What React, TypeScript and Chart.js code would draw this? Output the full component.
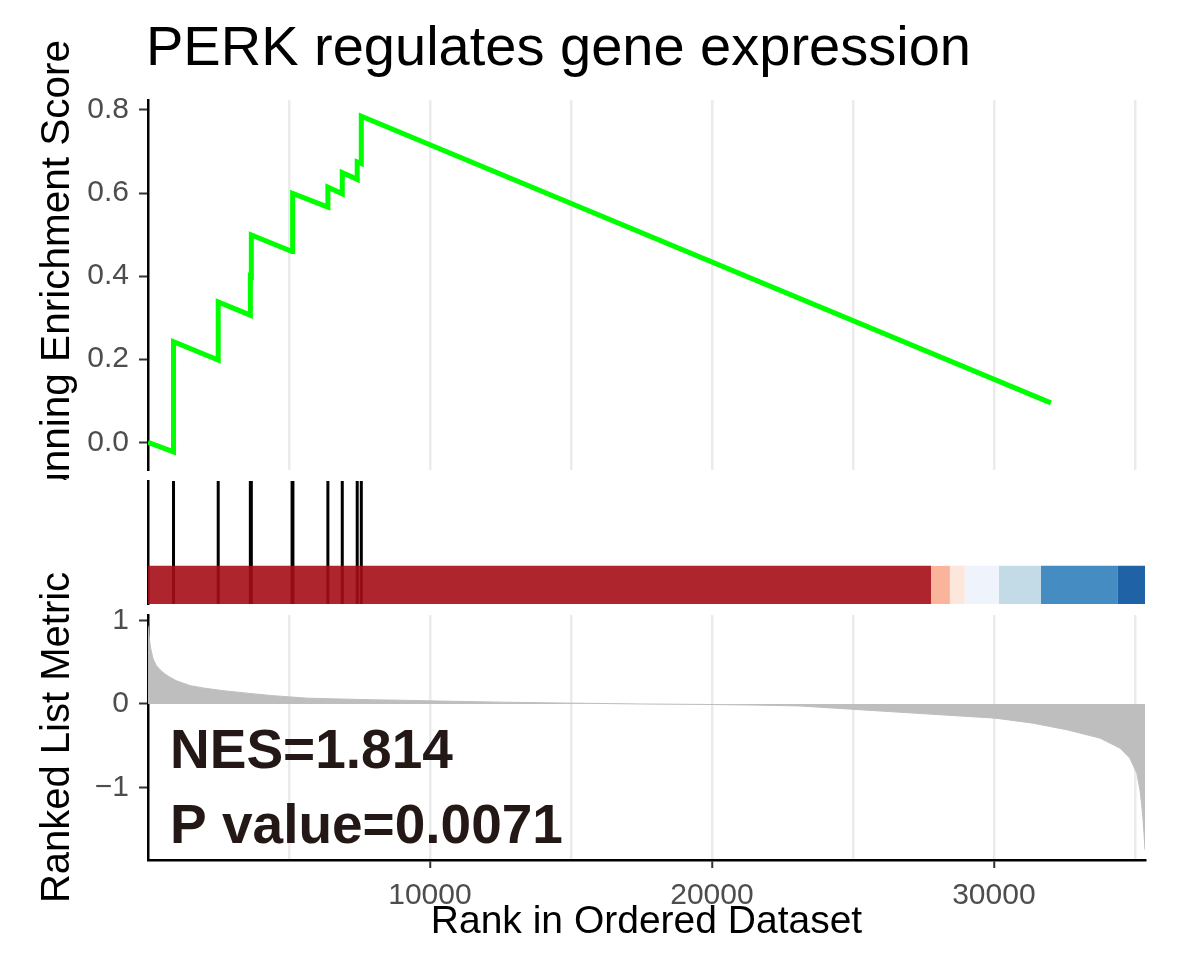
import React, { useEffect, useRef } from 'react';
import { Chart, registerables } from 'chart.js';

Chart.register(...registerables);

const FAMILY = '"Liberation Sans", Arial, Helvetica, sans-serif';

// ---------- data ----------
const N_GENES = 35360;
const X_GRID_TICKS = [0, 5000, 10000, 15000, 20000, 25000, 30000, 35000];
const X_LABELED = [10000, 20000, 30000];
const ES_TICKS = [0, 0.2, 0.4, 0.6, 0.8];
const METRIC_TICKS = [-1, 0, 1];

const TITLE = 'PERK regulates gene expression';
const ES_LABEL = 'Running Enrichment Score';
const METRIC_LABEL = 'Ranked List Metric';
const X_LABEL = 'Rank in Ordered Dataset';
const NES_TEXT = 'NES=1.814';
const P_TEXT = 'P value=0.0071';

const esRanks = [1, 905, 905, 2490, 2490, 3630, 3630, 3665, 3665, 5110, 5110, 5140, 5140, 6380, 6380, 6890, 6890, 7420, 7420, 7565, 7565, 32020];
const esValues = [0.0, -0.023, 0.242, 0.198, 0.338, 0.306, 0.4, 0.399, 0.499, 0.459, 0.527, 0.526, 0.599, 0.566, 0.614, 0.598, 0.649, 0.633, 0.675, 0.671, 0.785, 0.095];

const hitRanks = [905, 2490, 3630, 3665, 5110, 5140, 6380, 6890, 7420, 7565];

const barStarts = [0, 27770, 28440, 28970, 30180, 31670, 34400];
const barEnds = [27770, 28440, 28970, 30180, 31670, 34400, 35360];
const barColors = [
  'rgba(166,13,22,0.9)',
  'rgba(250,172,144,0.9)',
  'rgba(253,227,216,0.9)',
  'rgba(236,242,252,0.9)',
  'rgba(189,214,228,0.9)',
  'rgba(49,128,187,0.9)',
  'rgba(8,81,156,0.9)',
];

const metricRanks = [1, 40, 100, 180, 300, 430, 600, 780, 1000, 1250, 1500, 2000, 2660, 3500, 4430, 5640, 6800, 7980, 9000, 10350, 12500, 15070, 17450, 19570, 21500, 23120, 25000, 27840, 30040, 31380, 32590, 33760, 34470, 34820, 35070, 35180, 35240, 35290, 35330, 35360];
const metricValues = [0.94, 0.8, 0.66, 0.54, 0.46, 0.41, 0.36, 0.32, 0.28, 0.25, 0.22, 0.19, 0.16, 0.13, 0.1, 0.07, 0.06, 0.05, 0.045, 0.035, 0.022, 0.01, 0.0, -0.005, -0.013, -0.024, -0.064, -0.124, -0.17, -0.23, -0.31, -0.41, -0.53, -0.65, -0.83, -1.03, -1.2, -1.39, -1.58, -1.75];

const ES_MIN = -0.0667;
const ES_MAX = 0.824;
const METRIC_MIN = -1.873;
const METRIC_MAX = 1.068;

// ---------- helpers ----------
const TRANSPARENT = 'rgba(0,0,0,0)';
const GRID = '#EBEBEB';
const TICK_TEXT = '#4D4D4D';

function gridColor(c: any) {
  return c.tick && c.tick.value === 0 ? TRANSPARENT : GRID;
}

function setTicks(values: number[]) {
  return (s: any) => {
    s.ticks = values.map((v) => ({ value: v }));
  };
}

function fixWidth(w: number) {
  return (s: any) => {
    s.width = w;
    s.paddingTop = 0;
    s.paddingBottom = 0;
  };
}

function fixHeight(h: number) {
  return (s: any) => {
    s.height = h;
    s.paddingLeft = 0;
    s.paddingRight = 0;
  };
}

function baseOptions(padding: any) {
  return {
    responsive: false,
    maintainAspectRatio: false,
    animation: false as const,
    devicePixelRatio: 1,
    layout: { padding },
    plugins: {
      legend: { display: false },
      tooltip: { enabled: false },
      title: { display: false },
    },
    elements: { point: { radius: 0 } },
  };
}

const whiteBg = {
  id: 'whiteBg',
  beforeDraw(chart: any) {
    const ctx = chart.ctx;
    ctx.save();
    ctx.fillStyle = '#FFFFFF';
    ctx.fillRect(0, 0, chart.width, chart.height);
    ctx.restore();
  },
};

const topText = {
  id: 'topText',
  afterDraw(chart: any) {
    const ctx = chart.ctx;
    ctx.save();
    ctx.fillStyle = '#000000';
    ctx.font = `56px ${FAMILY}`;
    ctx.textAlign = 'left';
    ctx.textBaseline = 'alphabetic';
    ctx.fillText(TITLE, 146, 65);
    ctx.translate(69, 282);
    ctx.rotate(-Math.PI / 2);
    ctx.font = `40.5px ${FAMILY}`;
    ctx.textAlign = 'center';
    ctx.fillText(ES_LABEL, 0, 0);
    ctx.restore();
  },
};

const bottomText = {
  id: 'bottomText',
  afterDraw(chart: any) {
    const ctx = chart.ctx;
    const ca = chart.chartArea;
    ctx.save();
    ctx.fillStyle = '#000000';
    ctx.textBaseline = 'alphabetic';
    ctx.font = `39px ${FAMILY}`;
    ctx.textAlign = 'center';
    ctx.fillText(X_LABEL, (ca.left + ca.right) / 2, 453);
    ctx.fillStyle = '#231815';
    ctx.font = `bold 55px ${FAMILY}`;
    ctx.textAlign = 'left';
    ctx.fillText(NES_TEXT, 170, 288);
    ctx.fillText(P_TEXT, 170, 363);
    ctx.fillStyle = '#000000';
    ctx.translate(69, (ca.top + ca.bottom) / 2);
    ctx.rotate(-Math.PI / 2);
    ctx.font = `40px ${FAMILY}`;
    ctx.textAlign = 'center';
    ctx.fillText(METRIC_LABEL, 0, 0);
    ctx.restore();
  },
};

export default function App() {
  const topRef = useRef<HTMLCanvasElement>(null);
  const midRef = useRef<HTMLCanvasElement>(null);
  const botRef = useRef<HTMLCanvasElement>(null);

  useEffect(() => {
    const charts: Chart[] = [];

    // ----- top: running enrichment score -----
    const esData = esRanks.map((r, i) => ({ x: r, y: esValues[i] }));
    charts.push(
      new Chart(topRef.current as HTMLCanvasElement, {
        type: 'line',
        data: {
          datasets: [
            {
              data: esData,
              borderColor: '#00FF00',
              borderWidth: 5,
              pointRadius: 0,
              fill: false,
              tension: 0,
            },
          ],
        },
        options: {
          ...baseOptions({ top: 100, left: 0, right: 39, bottom: 0 }),
          scales: {
            x: {
              type: 'linear',
              bounds: 'data',
              min: 0,
              max: N_GENES,
              afterBuildTicks: setTicks(X_GRID_TICKS),
              afterFit: fixHeight(10),
              ticks: { display: false, autoSkip: false },
              grid: { color: gridColor, lineWidth: 2.5, drawTicks: false },
              border: { display: false },
            },
            y: {
              type: 'linear',
              bounds: 'data',
              min: ES_MIN,
              max: ES_MAX,
              afterBuildTicks: setTicks(ES_TICKS),
              afterFit: fixWidth(148),
              ticks: {
                callback: (v: any) => Number(v).toFixed(1),
                font: { size: 30, family: FAMILY },
                color: TICK_TEXT,
                padding: 10,
              },
              grid: { drawOnChartArea: false, tickLength: 9, tickColor: '#333333', tickWidth: 2 },
              border: { display: true, color: '#000000', width: 2.5 },
            },
          },
        } as any,
        plugins: [topText],
      })
    );

    // ----- middle: hits and colour bar -----
    const hitData: any[] = [];
    hitRanks.forEach((r) => {
      hitData.push({ x: r, y: 0 }, { x: r, y: 1 }, { x: r, y: null });
    });
    const barDatasets = barStarts.map((s, i) => ({
      data: [
        { x: s, y: 0.31 },
        { x: barEnds[i], y: 0.31 },
      ],
      borderColor: TRANSPARENT,
      borderWidth: 0,
      backgroundColor: barColors[i],
      fill: 'origin',
      pointRadius: 0,
      order: 0,
    }));
    charts.push(
      new Chart(midRef.current as HTMLCanvasElement, {
        type: 'line',
        data: {
          datasets: [
            ...barDatasets,
            {
              data: hitData,
              borderColor: '#000000',
              borderWidth: 3,
              pointRadius: 0,
              fill: false,
              spanGaps: false,
              order: 5,
            },
          ],
        } as any,
        options: {
          ...baseOptions({ top: 1, left: 0, right: 39, bottom: 6 }),
          scales: {
            x: { type: 'linear', bounds: 'data', min: 0, max: N_GENES, display: false },
            y: {
              type: 'linear',
              bounds: 'data',
              min: 0,
              max: 1,
              afterFit: fixWidth(148),
              ticks: { display: false },
              grid: { display: true, drawOnChartArea: false, drawTicks: false },
              border: { display: true, color: '#000000', width: 2.5 },
            },
          },
        } as any,
        plugins: [whiteBg],
      })
    );

    // ----- bottom: ranked list metric -----
    const metricData = metricRanks.map((r, i) => ({ x: r, y: metricValues[i] }));
    charts.push(
      new Chart(botRef.current as HTMLCanvasElement, {
        type: 'line',
        data: {
          datasets: [
            {
              data: metricData,
              borderColor: '#BEBEBE',
              borderWidth: 1,
              backgroundColor: '#BEBEBE',
              fill: 'origin',
              pointRadius: 0,
              tension: 0,
            },
          ],
        } as any,
        options: {
          ...baseOptions({ top: 135, left: 0, right: 39, bottom: 0 }),
          scales: {
            x: {
              type: 'linear',
              bounds: 'data',
              min: 0,
              max: N_GENES,
              afterBuildTicks: setTicks(X_GRID_TICKS),
              afterFit: fixHeight(101),
              ticks: {
                autoSkip: false,
                maxRotation: 0,
                minRotation: 0,
                callback: (v: any) => (X_LABELED.indexOf(Math.round(Number(v))) >= 0 ? String(Math.round(Number(v))) : ''),
                font: { size: 30, family: FAMILY },
                color: TICK_TEXT,
                padding: 10,
              },
              grid: {
                color: gridColor,
                lineWidth: 2.5,
                drawTicks: true,
                tickLength: 8,
                tickWidth: 2,
                tickColor: (c: any) => (c.tick && X_LABELED.indexOf(Math.round(c.tick.value)) >= 0 ? '#333333' : TRANSPARENT),
              },
              border: { display: true, color: '#000000', width: 2.5 },
            },
            y: {
              type: 'linear',
              bounds: 'data',
              min: METRIC_MIN,
              max: METRIC_MAX,
              afterBuildTicks: setTicks(METRIC_TICKS),
              afterFit: fixWidth(148),
              ticks: {
                callback: (v: any) => (Number(v) < 0 ? '\u2212' + Math.abs(Number(v)) : String(v)),
                font: { size: 30, family: FAMILY },
                color: TICK_TEXT,
                padding: 10,
              },
              grid: { drawOnChartArea: false, tickLength: 9, tickColor: '#333333', tickWidth: 2 },
              border: { display: true, color: '#000000', width: 2.5 },
            },
          },
        } as any,
        plugins: [bottomText],
      })
    );

    return () => {
      charts.forEach((c) => c.destroy());
    };
  }, []);

  const canvasStyle = (top: number, height: number): React.CSSProperties => ({
    position: 'absolute',
    left: 0,
    top,
    width: 1184,
    height,
    display: 'block',
  });

  return (
    <div style={{ position: 'absolute', left: 0, top: 0, width: 1184, height: 961, background: '#FFFFFF', overflow: 'hidden' }}>
      <canvas ref={topRef} width={1184} height={480} style={canvasStyle(0, 480)} />
      <canvas ref={midRef} width={1184} height={130} style={canvasStyle(480, 130)} />
      <canvas ref={botRef} width={1184} height={481} style={canvasStyle(480, 481)} />
    </div>
  );
}
